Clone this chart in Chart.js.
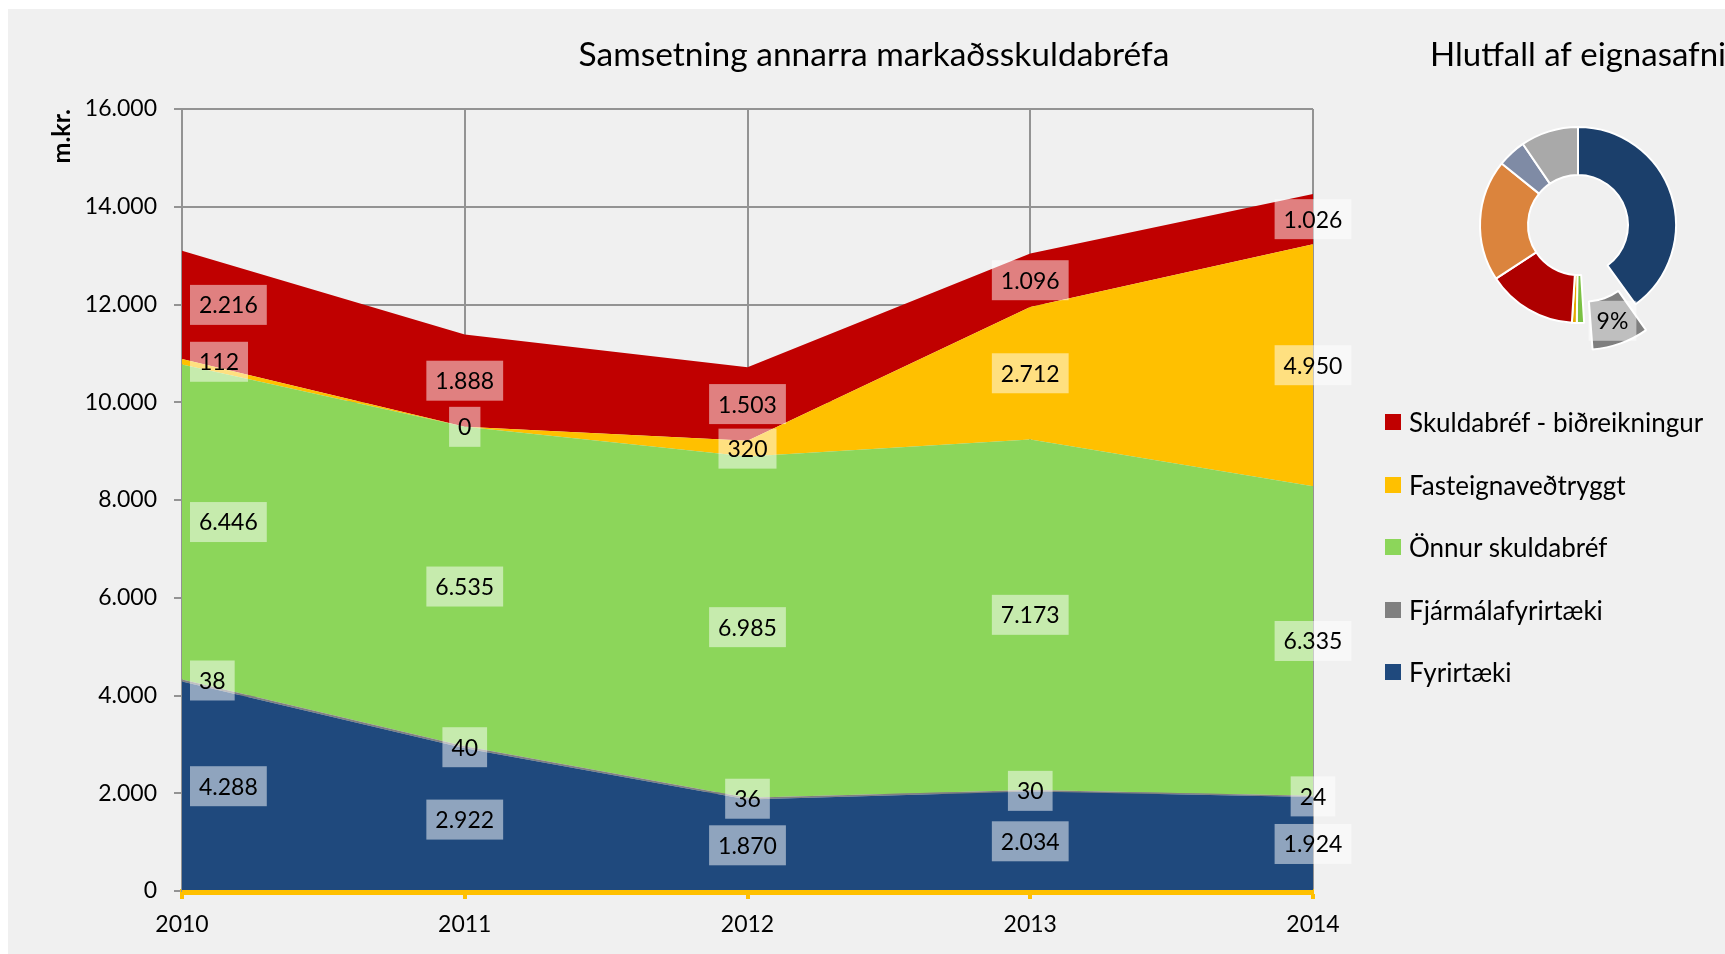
<!DOCTYPE html>
<html>
<head>
<meta charset="utf-8">
<script src="https://cdn.jsdelivr.net/npm/chart.js@4.4.1/dist/chart.umd.min.js"></script>
<style>
  html, body { margin: 0; padding: 0; background: #fff; overflow: hidden; }
  #frame { position: absolute; left: 8px; top: 9px; width: 1717px; height: 945px; background: #f0f0f0; overflow: hidden; }
  #areaChart { position: absolute; left: 0; top: 0; }
  #pieChart { position: absolute; left: 1422px; top: 0; }
  #legend { position: absolute; left: 1377px; top: 382px; font: 26px Lato; color: #000; }
  #legend .item { display: flex; align-items: center; height: 62.5px; white-space: nowrap; }
  #legend .box { width: 16px; height: 16px; margin-right: 8px; }
</style>
</head>
<body>
<div id="frame">
  <canvas id="areaChart" width="1732" height="945"></canvas>
  <canvas id="pieChart" width="400" height="372"></canvas>
  <div id="legend"></div>
</div>
<script>
// values (m.kr.)
const years = ['2010', '2011', '2012', '2013', '2014'];
const fyrirtaeki = [4288, 2922, 1870, 2034, 1924];
const fjarmalafyrirtaeki = [38, 40, 36, 30, 24];
const onnurSkuldabref = [6446, 6535, 6985, 7173, 6335];
const fasteignavedtryggt = [112, 0, 320, 2712, 4950];
const bidreikningur = [2216, 1888, 1503, 1096, 1026];

const seriesNames = ['Fyrirtæki', 'Fjármálafyrirtæki', 'Önnur skuldabréf', 'Fasteignaveðtryggt', 'Skuldabréf - biðreikningur'];
const seriesColors = ['#1F497D', '#808080', '#8CD65A', '#FFC000', '#C00000'];

const yMax = 16000;
const yStep = 2000;

// portfolio share (%)
const pieLabels = ['Hluti 1', 'Önnur markaðsskuldabréf', 'Hluti 3', 'Hluti 4', 'Hluti 5', 'Hluti 6', 'Hluti 7', 'Hluti 8'];
const pieValues = [40, 9, 1.2, 0.8, 14.8, 20, 4.7, 9.5];
const pieColors = ['#1B3F6B', '#7F7F7F', '#7AC143', '#E6A800', '#AE0000', '#DB843D', '#7F8BA5', '#A9A9A9'];
const pieHighlight = 1;

const fmt = v => String(v).replace(/\B(?=(\d{3})+(?!\d))/g, '.');

// yellow category axis line, drawn over the filled areas
const axisLine = {
  id: 'axisLine',
  afterDatasetsDraw(chart) {
    const { ctx, chartArea } = chart;
    ctx.save();
    ctx.strokeStyle = chart.scales.x.options.border.color;
    ctx.lineWidth = 5;
    ctx.beginPath();
    ctx.moveTo(chartArea.left, chartArea.bottom + 1.5);
    ctx.lineTo(chartArea.right, chartArea.bottom + 1.5);
    ctx.stroke();
    ctx.restore();
  }
};

const areaLabels = {
  id: 'areaLabels',
  afterDatasetsDraw(chart) {
    const { ctx, chartArea } = chart;
    const x = chart.scales.x, y = chart.scales.y;
    ctx.save();
    ctx.font = '23px Lato';
    ctx.textAlign = 'center';
    ctx.textBaseline = 'middle';
    years.forEach((yr, i) => {
      let base = 0;
      chart.data.datasets.forEach(ds => {
        const v = ds.data[i];
        const text = fmt(v);
        const w = ctx.measureText(text).width + 18;
        const h = 40;
        let cx = x.getPixelForValue(i);
        if (i === 0) cx = chartArea.left + 8 + w / 2;
        const cy = y.getPixelForValue(base + v / 2);
        base += v;
        ctx.fillStyle = 'rgba(255,255,255,0.5)';
        ctx.fillRect(cx - w / 2, cy - h / 2, w, h);
        ctx.fillStyle = '#000';
        ctx.fillText(text, cx, cy + 1);
      });
    });
    ctx.restore();
  }
};

const pieLabel = {
  id: 'pieLabel',
  afterDatasetsDraw(chart) {
    const { ctx } = chart;
    const arc = chart.getDatasetMeta(0).data[pieHighlight];
    const total = pieValues.reduce((a, b) => a + b, 0);
    const text = Math.round(pieValues[pieHighlight] / total * 100) + '%';
    const p = arc.getProps(['x', 'y', 'startAngle', 'endAngle', 'innerRadius', 'outerRadius']);
    const mid = (p.startAngle + p.endAngle) / 2;
    const t = arc.options.offset / 4;
    const fix = 1 - Math.sin(Math.min(Math.PI, p.endAngle - p.startAngle));
    const r = (p.innerRadius + p.outerRadius) / 2 + t + t * fix;
    const cx = p.x + Math.cos(mid) * r;
    const cy = p.y + Math.sin(mid) * r;
    ctx.save();
    ctx.font = '23px Lato';
    ctx.textAlign = 'center';
    ctx.textBaseline = 'middle';
    const w = ctx.measureText(text).width + 16;
    ctx.fillStyle = 'rgba(255,255,255,0.5)';
    ctx.fillRect(cx - w / 2, cy - 20, w, 40);
    ctx.fillStyle = '#000';
    ctx.fillText(text, cx, cy + 1);
    ctx.restore();
  }
};

function build() {
  const series = [fyrirtaeki, fjarmalafyrirtaeki, onnurSkuldabref, fasteignavedtryggt, bidreikningur];
  const datasets = series.map((d, i) => ({
    label: seriesNames[i],
    data: d,
    yAxisID: 'y',
    backgroundColor: seriesColors[i],
    borderColor: seriesColors[i],
    borderWidth: 0,
    pointRadius: 0,
    tension: 0,
    fill: i === 0 ? 'origin' : '-1'
  }));

  new Chart(document.getElementById('areaChart'), {
    type: 'line',
    data: { labels: years, datasets: datasets },
    options: {
      responsive: false,
      animation: false,
      layout: { padding: 0 },
      plugins: {
        legend: { display: false },
        tooltip: { enabled: false },
        title: {
          display: true,
          text: 'Samsetning annarra markaðsskuldabréfa',
          color: '#000',
          font: { family: 'Lato', size: 33.5, weight: 'normal', lineHeight: 1.2 },
          padding: { top: 26, bottom: 33.8 }
        }
      },
      scales: {
        x: {
          ticks: { color: '#000', font: { family: 'Lato', size: 23 }, padding: 12, maxRotation: 0 },
          grid: { color: '#939393', lineWidth: 2, tickColor: '#FFC000', tickWidth: 4, tickLength: 8 },
          border: { color: '#FFC000', width: 5 },
          afterFit: s => { s.height = 63; }
        },
        y: {
          stacked: true,
          min: 0,
          max: yMax,
          ticks: { stepSize: yStep, color: '#000', font: { family: 'Lato', size: 23 }, padding: 17, callback: v => fmt(v) },
          grid: { color: '#939393', lineWidth: 2, tickLength: 8 },
          border: { color: '#939393', width: 2 },
          title: {
            display: true, text: 'm.kr.', align: 'end', color: '#000',
            font: { family: 'Lato', size: 25, weight: 'bold' },
            padding: { top: 39, bottom: 0 }
          },
          afterFit: s => { s.width = 174; }
        },
        yR: {
          position: 'right',
          grid: { display: false },
          border: { display: false },
          ticks: { display: false },
          afterFit: s => { s.width = 427; }
        }
      }
    },
    plugins: [axisLine, areaLabels]
  });

  new Chart(document.getElementById('pieChart'), {
    type: 'doughnut',
    data: {
      labels: pieLabels,
      datasets: [{
        data: pieValues,
        backgroundColor: pieColors,
        borderColor: '#fff',
        borderWidth: 2,
        offset: ctx => ctx.dataIndex === pieHighlight ? 76 : 0
      }]
    },
    options: {
      responsive: false,
      animation: false,
      radius: 98,
      cutout: '51%',
      layout: { padding: { left: 0, right: 104, top: 0, bottom: 40 } },
      plugins: {
        legend: { display: false },
        tooltip: { enabled: false },
        title: {
          display: true,
          text: 'Hlutfall af eignasafni',
          align: 'start',
          color: '#000',
          font: { family: 'Lato', size: 33.5, weight: 'normal', lineHeight: 1.2 },
          padding: { top: 26, bottom: 33.8 }
        }
      }
    },
    plugins: [pieLabel]
  });

  // legend for the area chart, top item = top of the stack
  const legend = document.getElementById('legend');
  for (let i = seriesNames.length - 1; i >= 0; i--) {
    const row = document.createElement('div');
    row.className = 'item';
    const box = document.createElement('span');
    box.className = 'box';
    box.style.background = seriesColors[i];
    row.appendChild(box);
    row.appendChild(document.createTextNode(seriesNames[i]));
    legend.appendChild(row);
  }
}

Promise.all([
  document.fonts.load('23px Lato'),
  document.fonts.load('bold 25px Lato'),
  document.fonts.load('33.5px Lato'),
  document.fonts.load('26px Lato')
]).then(build, build);
</script>
</body>
</html>
